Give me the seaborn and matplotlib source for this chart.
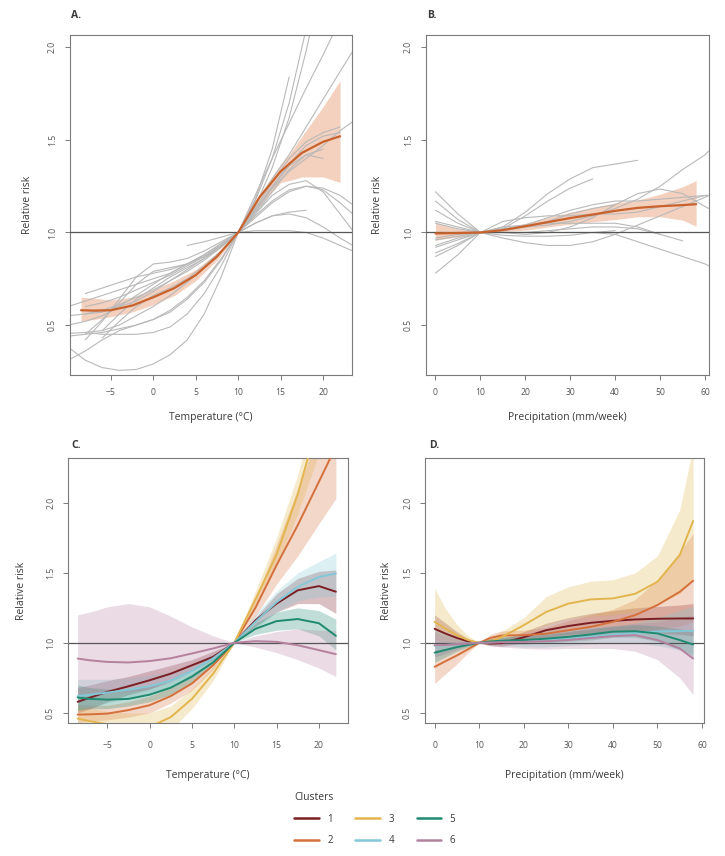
import numpy as np
import pandas as pd
import matplotlib
matplotlib.use("Agg")
import matplotlib.pyplot as plt
import seaborn as sns
from matplotlib.lines import Line2D

sns.set_theme(style="ticks")
plt.rcParams["font.family"] = ["Open Sans", "DejaVu Sans"]

nan = np.nan

# ── Panel A: temperature, region curves + pooled estimate ─────────────
temp_grid = [-10, -8, -6, -4, -2, 0, 2, 4, 6, 8, 10, 12, 14, 16, 18, 20, 22, 23.5]
temp_regions = [
    [0.38, 0.31, 0.27, 0.255, 0.26, 0.29, 0.34, 0.42, 0.56, 0.76, 1.0, 1.17, 1.40, 1.70, 2.10, nan, nan, nan],
    [0.31, 0.36, 0.42, 0.47, 0.50, 0.53, 0.57, 0.64, 0.73, 0.85, 1.0, 1.14, 1.35, 1.62, 1.98, 2.40, nan, nan],
    [nan, nan, 0.43, 0.52, 0.60, 0.66, 0.70, 0.75, 0.82, 0.90, 1.0, 1.18, 1.45, 1.84, nan, nan, nan, nan],
    [0.455, 0.46, 0.47, 0.50, 0.55, 0.60, 0.66, 0.73, 0.81, 0.90, 1.0, 1.20, 1.40, 1.59, 1.78, 1.96, 2.15, nan],
    [0.44, 0.45, 0.46, 0.48, 0.50, 0.53, 0.58, 0.65, 0.74, 0.86, 1.0, 1.15, 1.29, 1.42, 1.57, 1.72, 1.87, 1.98],
    [0.50, 0.52, 0.55, 0.60, 0.66, 0.72, 0.78, 0.83, 0.88, 0.94, 1.0, 1.12, 1.24, 1.33, 1.40, 1.47, 1.55, 1.60],
    [0.60, 0.63, 0.66, 0.69, 0.72, 0.75, 0.78, 0.83, 0.88, 0.94, 1.0, 1.01, 1.01, 1.01, 1.00, 0.97, 0.93, 0.90],
    [nan, 0.67, 0.70, 0.73, 0.76, 0.78, 0.80, 0.83, 0.87, 0.93, 1.0, 1.05, 1.09, 1.10, 1.08, 1.03, 0.97, 0.93],
    [nan, nan, nan, nan, nan, nan, nan, 0.93, 0.95, 0.975, 1.0, 1.05, 1.09, 1.11, 1.12, nan, nan, nan],
    [nan, 0.42, 0.52, 0.64, 0.76, 0.83, 0.84, 0.86, 0.90, 0.95, 1.0, 1.09, 1.17, 1.23, 1.25, 1.23, 1.16, 1.10],
    [nan, 0.45, 0.53, 0.62, 0.72, 0.79, 0.81, 0.83, 0.87, 0.93, 1.0, 1.10, 1.20, 1.26, 1.28, 1.22, 1.10, 1.01],
    [nan, 0.56, 0.57, 0.60, 0.63, 0.68, 0.74, 0.80, 0.86, 0.93, 1.0, 1.13, 1.27, 1.40, 1.49, 1.54, 1.57, nan],
    [nan, 0.60, 0.62, 0.65, 0.69, 0.73, 0.77, 0.82, 0.87, 0.93, 1.0, 1.12, 1.25, 1.37, 1.47, 1.52, 1.54, nan],
    [nan, nan, 0.47, 0.56, 0.64, 0.70, 0.76, 0.81, 0.86, 0.92, 1.0, 1.10, 1.22, 1.34, 1.42, 1.45, nan, nan],
    [nan, 0.46, 0.45, 0.45, 0.45, 0.46, 0.49, 0.56, 0.67, 0.82, 1.0, 1.11, 1.24, 1.36, 1.42, 1.40, nan, nan],
    [0.55, 0.56, 0.58, 0.61, 0.65, 0.69, 0.74, 0.79, 0.85, 0.92, 1.0, 1.08, 1.16, 1.22, 1.25, 1.24, 1.20, 1.15],
]
temp_pool_x = [-8.5, -7, -5, -2.5, 0, 2.5, 5, 7.5, 10, 12.5, 15, 16, 17.5, 20, 22]
temp_pool_rr = [0.58, 0.578, 0.58, 0.605, 0.65, 0.70, 0.77, 0.87, 1.0, 1.19, 1.33, 1.37, 1.43, 1.49, 1.52]
temp_pool_lo = [0.52, 0.53, 0.545, 0.57, 0.61, 0.66, 0.74, 0.85, 1.0, 1.14, 1.27, 1.28, 1.30, 1.30, 1.27]
temp_pool_hi = [0.65, 0.645, 0.635, 0.65, 0.69, 0.74, 0.80, 0.89, 1.0, 1.20, 1.37, 1.42, 1.52, 1.68, 1.82]

# ── Panel B: precipitation, region curves + pooled estimate ───────────
precip_grid = [0, 5, 10, 15, 20, 25, 30, 35, 40, 45, 50, 55, 60, 60.8]
precip_regions = [
    [1.22, 1.10, 1.0, 1.03, 1.11, 1.21, 1.29, 1.35, 1.37, 1.39, nan, nan, nan, nan],
    [1.17, 1.07, 1.0, 1.02, 1.09, 1.17, 1.24, 1.29, nan, nan, nan, nan, nan, nan],
    [0.89, 0.94, 1.0, 1.02, 1.03, 1.04, 1.06, 1.09, 1.13, 1.18, 1.25, 1.34, 1.42, 1.44],
    [1.06, 1.03, 1.0, 1.0, 1.0, 1.0, 1.0, 1.0, 0.99, 0.95, 0.91, 0.87, 0.83, 0.82],
    [0.93, 0.97, 1.0, 1.0, 0.99, 1.0, 1.03, 1.08, 1.15, 1.21, 1.235, 1.21, 1.14, 1.13],
    [0.96, 0.98, 1.0, 0.97, 0.945, 0.93, 0.93, 0.95, 0.99, 1.04, 1.09, 1.14, 1.19, 1.20],
    [0.87, 0.93, 1.0, 1.03, 1.04, 1.05, 1.05, 1.05, 1.05, 1.03, 0.99, 0.955, nan, nan],
    [1.12, 1.05, 1.0, 1.0, 1.0, 1.01, 1.02, 1.03, 1.03, 1.02, 0.99, nan, nan, nan],
    [0.78, 0.88, 1.0, 1.06, 1.08, 1.09, 1.09, 1.10, 1.10, 1.11, 1.14, 1.17, 1.20, 1.20],
    [0.92, 0.96, 1.0, 1.02, 1.04, 1.08, 1.12, 1.15, 1.17, 1.17, 1.18, 1.19, 1.20, 1.20],
    [1.05, 1.02, 1.0, 1.01, 1.03, 1.06, 1.10, 1.13, 1.15, nan, nan, nan, nan, nan],
    [0.97, 0.99, 1.0, 0.985, 0.98, 0.98, 0.985, 1.0, 1.01, nan, nan, nan, nan, nan],
]
precip_pool_x = [0, 5, 10, 15, 20, 25, 30, 35, 40, 45, 50, 55, 58]
precip_pool_rr = [0.995, 0.997, 1.0, 1.013, 1.034, 1.056, 1.078, 1.097, 1.117, 1.133, 1.142, 1.148, 1.153]
precip_pool_lo = [0.958, 0.977, 1.0, 1.005, 1.013, 1.03, 1.045, 1.058, 1.07, 1.085, 1.085, 1.067, 1.034]
precip_pool_hi = [1.052, 1.02, 1.0, 1.02, 1.05, 1.08, 1.11, 1.135, 1.16, 1.175, 1.207, 1.247, 1.28]

# ── Panel C: temperature by cluster ───────────────────────────────────
clu_temp_x = [-8.5, -7, -5, -2.5, 0, 2.5, 5, 7.5, 10, 12.5, 15, 17.5, 20, 22]
clu_temp_rr = {
    1: [0.579, 0.61, 0.65, 0.69, 0.733, 0.78, 0.84, 0.90, 1.0, 1.16, 1.28, 1.375, 1.405, 1.365],
    2: [0.488, 0.49, 0.495, 0.52, 0.555, 0.62, 0.71, 0.84, 1.0, 1.25, 1.555, 1.84, 2.15, 2.40],
    3: [0.46, 0.44, 0.42, 0.40, 0.40, 0.47, 0.60, 0.78, 1.0, 1.31, 1.63, 2.06, 2.60, 3.00],
    4: [0.62, 0.63, 0.645, 0.665, 0.69, 0.73, 0.80, 0.89, 1.0, 1.15, 1.29, 1.40, 1.47, 1.495],
    5: [0.61, 0.60, 0.595, 0.60, 0.63, 0.68, 0.76, 0.86, 1.0, 1.10, 1.155, 1.17, 1.14, 1.05],
    6: [0.888, 0.875, 0.864, 0.86, 0.87, 0.89, 0.924, 0.96, 1.0, 1.012, 1.007, 0.983, 0.948, 0.919],
}
clu_temp_lo = {
    1: [0.50, 0.53, 0.58, 0.63, 0.67, 0.73, 0.80, 0.88, 1.0, 1.12, 1.22, 1.28, 1.28, 1.21],
    2: [0.43, 0.44, 0.45, 0.47, 0.50, 0.57, 0.66, 0.81, 1.0, 1.19, 1.42, 1.62, 1.85, 2.03],
    3: [0.38, 0.36, 0.34, 0.32, 0.32, 0.38, 0.53, 0.73, 1.0, 1.26, 1.55, 1.92, 2.35, 2.70],
    4: [0.52, 0.54, 0.57, 0.60, 0.63, 0.68, 0.75, 0.86, 1.0, 1.10, 1.22, 1.30, 1.33, 1.33],
    5: [0.52, 0.53, 0.53, 0.55, 0.58, 0.63, 0.72, 0.84, 1.0, 1.06, 1.09, 1.10, 1.05, 0.95],
    6: [0.62, 0.63, 0.64, 0.65, 0.67, 0.72, 0.80, 0.90, 1.0, 0.97, 0.93, 0.88, 0.82, 0.76],
}
clu_temp_hi = {
    1: [0.68, 0.70, 0.73, 0.76, 0.80, 0.84, 0.88, 0.94, 1.0, 1.18, 1.35, 1.46, 1.51, 1.52],
    2: [0.56, 0.555, 0.555, 0.58, 0.62, 0.68, 0.77, 0.88, 1.0, 1.31, 1.70, 2.10, 2.50, 2.80],
    3: [0.55, 0.53, 0.51, 0.50, 0.50, 0.55, 0.67, 0.83, 1.0, 1.37, 1.75, 2.20, 2.80, 3.20],
    4: [0.74, 0.74, 0.74, 0.75, 0.77, 0.79, 0.85, 0.92, 1.0, 1.20, 1.37, 1.50, 1.58, 1.64],
    5: [0.70, 0.68, 0.67, 0.67, 0.69, 0.73, 0.80, 0.89, 1.0, 1.14, 1.22, 1.25, 1.23, 1.17],
    6: [1.20, 1.22, 1.257, 1.28, 1.257, 1.19, 1.114, 1.05, 1.0, 1.05, 1.08, 1.10, 1.09, 1.09],
}

# ── Panel D: precipitation by cluster ─────────────────────────────────
clu_precip_x = [0, 2.5, 5, 7.5, 10, 12.5, 15, 20, 25, 30, 35, 40, 45, 50, 55, 58]
clu_precip_rr = {
    1: [1.10, 1.065, 1.035, 1.01, 1.0, 0.995, 0.997, 1.04, 1.09, 1.12, 1.143, 1.157, 1.167, 1.172, 1.174, 1.174],
    2: [0.829, 0.87, 0.91, 0.955, 1.0, 1.035, 1.052, 1.055, 1.065, 1.09, 1.114, 1.15, 1.198, 1.27, 1.364, 1.443],
    3: [1.15, 1.10, 1.055, 1.02, 1.0, 1.01, 1.04, 1.126, 1.22, 1.28, 1.31, 1.317, 1.35, 1.436, 1.626, 1.87],
    4: [0.98, 0.985, 0.99, 0.995, 1.0, 1.003, 1.006, 1.01, 1.02, 1.03, 1.045, 1.06, 1.07, 1.08, 1.085, 1.085],
    5: [0.93, 0.95, 0.97, 0.985, 1.0, 1.01, 1.015, 1.02, 1.03, 1.043, 1.06, 1.08, 1.083, 1.067, 1.02, 0.988],
    6: [0.983, 0.985, 0.99, 0.995, 1.0, 1.003, 1.005, 1.007, 1.012, 1.02, 1.035, 1.048, 1.055, 1.02, 0.96, 0.888],
}
clu_precip_lo = {
    1: [1.00, 1.00, 1.00, 0.99, 1.0, 0.98, 0.975, 1.0, 1.04, 1.06, 1.07, 1.08, 1.08, 1.07, 1.06, 1.05],
    2: [0.71, 0.78, 0.85, 0.93, 1.0, 1.01, 1.02, 1.02, 1.02, 1.03, 1.04, 1.06, 1.08, 1.10, 1.12, 1.15],
    3: [1.02, 1.01, 0.99, 0.99, 1.0, 0.99, 1.00, 1.07, 1.12, 1.17, 1.19, 1.20, 1.22, 1.28, 1.35, 1.45],
    4: [0.90, 0.93, 0.96, 0.98, 1.0, 0.99, 0.98, 0.97, 0.97, 0.98, 0.99, 1.00, 1.00, 0.98, 0.95, 0.92],
    5: [0.86, 0.90, 0.94, 0.97, 1.0, 0.995, 0.995, 0.99, 1.00, 1.01, 1.02, 1.04, 1.04, 1.01, 0.95, 0.90],
    6: [0.90, 0.92, 0.95, 0.98, 1.0, 0.98, 0.97, 0.96, 0.955, 0.96, 0.96, 0.96, 0.94, 0.88, 0.75, 0.63],
}
clu_precip_hi = {
    1: [1.20, 1.14, 1.08, 1.03, 1.0, 1.01, 1.02, 1.08, 1.14, 1.18, 1.21, 1.23, 1.25, 1.26, 1.27, 1.28],
    2: [0.95, 0.96, 0.97, 0.985, 1.0, 1.06, 1.085, 1.09, 1.11, 1.16, 1.20, 1.24, 1.31, 1.45, 1.65, 1.78],
    3: [1.39, 1.24, 1.13, 1.05, 1.0, 1.04, 1.08, 1.18, 1.33, 1.40, 1.44, 1.45, 1.50, 1.62, 1.95, 2.40],
    4: [1.10, 1.06, 1.03, 1.01, 1.0, 1.02, 1.04, 1.06, 1.08, 1.10, 1.11, 1.12, 1.14, 1.18, 1.23, 1.26],
    5: [1.00, 1.00, 1.00, 1.00, 1.0, 1.03, 1.04, 1.05, 1.06, 1.08, 1.10, 1.12, 1.13, 1.12, 1.10, 1.08],
    6: [1.08, 1.05, 1.03, 1.01, 1.0, 1.03, 1.04, 1.05, 1.06, 1.08, 1.10, 1.12, 1.14, 1.15, 1.18, 1.20],
}

CLUSTERS = [1, 2, 3, 4, 5, 6]
CLUSTER_COLORS = {1: "#7a1f24", 2: "#d4703c", 3: "#e2b54e",
                  4: "#82c8d6", 5: "#1f8a70", 6: "#b4819f"}
POOL_LINE = "#c8632e"
POOL_BAND = "#e07a45"
REGION_GREY = "#b9b9b9"
FRAME = "#7a7a7a"
TEXT = "#3a3a3a"

TEMP_TICKS = [-5, 0, 5, 10, 15, 20]
PRECIP_TICKS = [0, 10, 20, 30, 40, 50, 60]
RR_TICKS = [0.5, 1.0, 1.5, 2.0]


def regions_frame(grid, curves):
    rows = []
    for i, vals in enumerate(curves):
        for x, v in zip(grid, vals):
            if not np.isnan(v):
                rows.append((i, x, v))
    return pd.DataFrame(rows, columns=["region", "x", "rr"])


def clusters_frame(xs, values):
    rows = [(c, x, v) for c in CLUSTERS for x, v in zip(xs, values[c])]
    return pd.DataFrame(rows, columns=["cluster", "x", "rr"])


def style_axes(ax, xticks, xlim, ylim, xlabel, xpad, ypad, tickpad):
    ax.set_xlim(*xlim)
    ax.set_ylim(*ylim)
    ax.set_xticks(xticks)
    ax.set_yticks(RR_TICKS)
    ax.set_yticklabels([f"{t:.1f}" for t in RR_TICKS])
    ax.set_xlabel(xlabel, fontsize=7.5, color=TEXT, labelpad=xpad)
    ax.set_ylabel("Relative risk", fontsize=7.5, color=TEXT, labelpad=ypad)
    ax.tick_params(axis="both", direction="out", length=3.5, width=0.7,
                   color=FRAME, labelsize=6.2, labelcolor="#555555", pad=6)
    ax.tick_params(axis="x", pad=tickpad)
    ax.tick_params(axis="y", labelrotation=90)
    for lab in ax.get_yticklabels():
        lab.set_va("center")
    for sp in ax.spines.values():
        sp.set_color(FRAME)
        sp.set_linewidth(0.8)


def pooled_panel(ax, grid, curves, px, prr, plo, phi):
    ax.fill_between(px, plo, phi, color=POOL_BAND, alpha=0.35, lw=0, zorder=1)
    sns.lineplot(data=regions_frame(grid, curves), x="x", y="rr", units="region",
                 estimator=None, color=REGION_GREY, lw=0.8, ax=ax, zorder=2)
    ax.axhline(1.0, color="#555555", lw=0.9, zorder=3)
    sns.lineplot(x=px, y=prr, color=POOL_LINE, lw=1.6, ax=ax, zorder=4)


def cluster_panel(ax, xs, rr, lo, hi):
    for c in CLUSTERS:
        ax.fill_between(xs, lo[c], hi[c], color=CLUSTER_COLORS[c], alpha=0.28,
                        lw=0, zorder=1)
    ax.axhline(1.0, color="#555555", lw=0.9, zorder=2)
    sns.lineplot(data=clusters_frame(xs, rr), x="x", y="rr", hue="cluster",
                 hue_order=CLUSTERS, palette=CLUSTER_COLORS, estimator=None,
                 lw=1.4, legend=False, ax=ax, zorder=3)


fig = plt.figure(figsize=(7.25, 8.56), dpi=100)
ax_a = fig.add_axes([0.0966, 0.5619, 0.3889, 0.3972])
ax_b = fig.add_axes([0.5876, 0.5619, 0.3899, 0.3972])
ax_c = fig.add_axes([0.0942, 0.1557, 0.3854, 0.3089])
ax_d = fig.add_axes([0.5866, 0.1557, 0.3848, 0.3089])

pooled_panel(ax_a, temp_grid, temp_regions, temp_pool_x, temp_pool_rr,
             temp_pool_lo, temp_pool_hi)
style_axes(ax_a, TEMP_TICKS, (-9.8, 23.4), (0.23, 2.067), "Temperature (°C)", 11, 11, 6)

pooled_panel(ax_b, precip_grid, precip_regions, precip_pool_x, precip_pool_rr,
             precip_pool_lo, precip_pool_hi)
style_axes(ax_b, PRECIP_TICKS, (-2.1, 60.8), (0.23, 2.067), "Precipitation (mm/week)", 11, 15, 6)

cluster_panel(ax_c, clu_temp_x, clu_temp_rr, clu_temp_lo, clu_temp_hi)
style_axes(ax_c, TEMP_TICKS, (-9.6, 23.4), (0.43, 2.317), "Temperature (°C)", 14, 14, 10)

cluster_panel(ax_d, clu_precip_x, clu_precip_rr, clu_precip_lo, clu_precip_hi)
style_axes(ax_d, PRECIP_TICKS, (-2.1, 60.5), (0.43, 2.317), "Precipitation (mm/week)", 14, 8, 10)

for letter, (lx, ly) in zip(["A.", "B.", "C.", "D."],
                            [(0.0985, 0.9817), (0.5895, 0.9817),
                             (0.0985, 0.4793), (0.5925, 0.4793)]):
    fig.text(lx, ly, letter, fontsize=7.5, fontweight="bold", color=TEXT,
             ha="left", va="center")

handles = [Line2D([], [], color=CLUSTER_COLORS[c], lw=1.8) for c in CLUSTERS]
leg = fig.legend(handles, [str(c) for c in CLUSTERS], ncol=3, title="Clusters",
                 loc="center", bbox_to_anchor=(0.517, 0.043), frameon=False,
                 fontsize=7, title_fontsize=7.5, handlelength=2.5,
                 handletextpad=0.9, columnspacing=2.3, labelspacing=1.1,
                 alignment="left")
for t in leg.get_texts():
    t.set_color(TEXT)
leg.get_title().set_color(TEXT)

fig.savefig("out.png", dpi=100)
